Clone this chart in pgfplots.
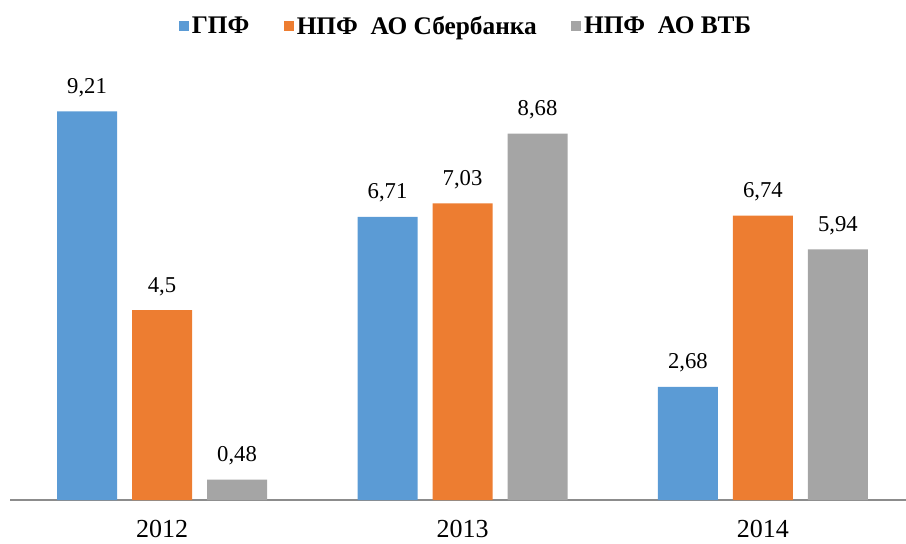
\documentclass[border=0pt]{standalone}
\usepackage{pgfplots}
\pgfplotsset{compat=1.18}
\usepackage{fontspec}
\setmainfont{Liberation Serif}
\definecolor{cb}{HTML}{5B9BD5}
\definecolor{co}{HTML}{ED7D31}
\definecolor{cg}{HTML}{A5A5A5}
\definecolor{axc}{HTML}{8C8C8C}
\begin{document}
\begin{tikzpicture}
\useasboundingbox (0,0) rectangle (679.5pt,407.25pt);
\begin{axis}[
  at={(7.5pt,32.25pt)}, anchor=south west,
  scale only axis, width=672pt, height=316.5pt,
  xmin=-0.506, xmax=2.476, ymin=0, ymax=10,
  axis x line*=bottom, axis y line=none,
  x axis line style={-, draw=axc, line width=1.2pt},
  ytick=\empty,
  xtick={0,1,2}, xticklabels={2012,2013,2014},
  major tick length=0pt, tick style={draw=none},
  /pgf/number format/assume math mode=true,
  xticklabel style={font=\fontsize{19.5}{22}\selectfont, inner sep=0pt, anchor=north, yshift=-15pt},
  ybar=11.25pt, bar width=45pt,
  nodes near coords, point meta=explicit symbolic,
  every node near coord/.append style={font=\fontsize{17}{20}\selectfont, anchor=base, yshift=13.5pt, inner sep=0pt, text=black},
  legend style={at={(axis description cs:0.5095,1)}, anchor=center, yshift=39pt, draw=none, fill=none,
    legend columns=-1, font=\fontsize{19}{22}\selectfont\bfseries,
    /tikz/every even column/.append style={column sep=24pt}},
  legend image code/.code={\fill[#1] (0pt,-4pt) rectangle (7.5pt,4pt);},
  clip=false,
]
\addplot[fill=cb, draw=none] coordinates {(0,9.21) [9,21] (1,6.71) [6,71] (2,2.68) [2,68]};
\addplot[fill=co, draw=none] coordinates {(0,4.5) [4,5] (1,7.03) [7,03] (2,6.74) [6,74]};
\addplot[fill=cg, draw=none] coordinates {(0,0.48) [0,48] (1,8.68) [8,68] (2,5.94) [5,94]};
\legend{ГПФ, НПФ\ \ АО Сбербанка, НПФ\ \ АО ВТБ}
\end{axis}
\end{tikzpicture}
\end{document}
